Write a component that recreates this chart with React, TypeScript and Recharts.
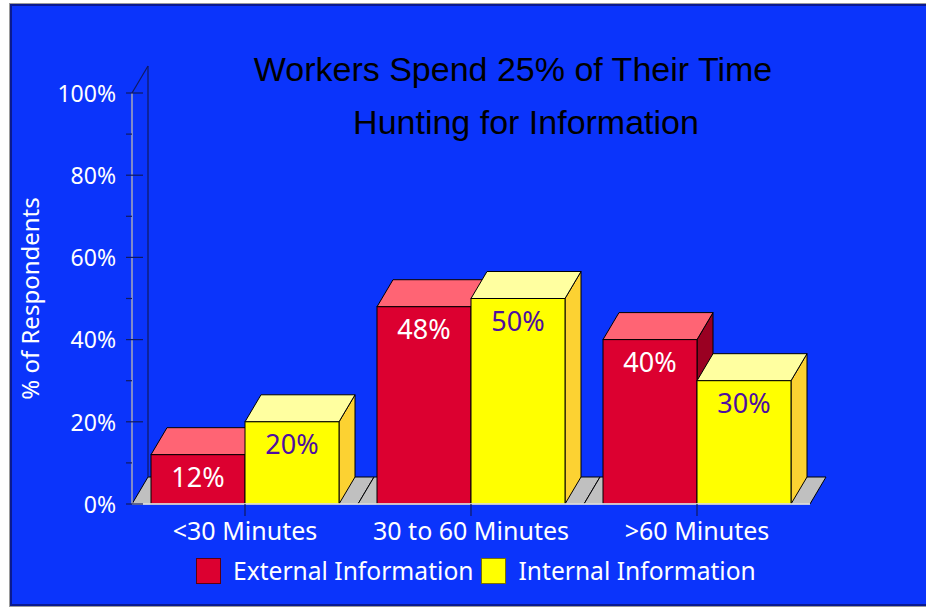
import { BarChart, Bar, XAxis, YAxis, Legend, LabelList, ReferenceArea } from "recharts";

const categories = ["<30 Minutes", "30 to 60 Minutes", ">60 Minutes"];
const externalInfo = [12, 48, 40];
const internalInfo = [20, 50, 30];
const yTicks = [0, 10, 20, 30, 40, 50, 60, 70, 80, 90, 100];

const data = categories.map((name, i) => ({
    name,
    external: externalInfo[i],
    internal: internalInfo[i],
}));

// depth of the fake 3d
const DX = 16;
const DY = 27;
const FONT = "'Noto Sans', sans-serif";
const AXIS_DARK = "#101a60";

const makeBox = (front: string, top: string, side: string) => (props: any) => {
    const { x, y, width: w, height: h } = props;
    if (h == null || w == null) return null;
    return (
        <g>
            <polygon
                points={`${x + w},${y} ${x + w + DX},${y - DY} ${x + w + DX},${y + h - DY} ${x + w},${y + h}`}
                fill={side}
                stroke="#000"
                strokeWidth={1}
            />
            <polygon
                points={`${x},${y} ${x + DX},${y - DY} ${x + w + DX},${y - DY} ${x + w},${y}`}
                fill={top}
                stroke="#000"
                strokeWidth={1}
            />
            <rect x={x} y={y} width={w} height={h} fill={front} stroke="#000" strokeWidth={1} />
        </g>
    );
};

const RedBox = makeBox("#dc0030", "#ff6474", "#9a0022");
const YellowBox = makeBox("#ffff00", "#ffffa0", "#fcd232");

const FloorTile = (props: any) => {
    const { x, y, width, height } = props;
    const b = y + height;
    return (
        <polygon
            points={`${x},${b} ${x + width},${b} ${x + width + DX},${b - DY} ${x + DX},${b - DY}`}
            fill="#c0c0c0"
            stroke="#000"
            strokeWidth={1}
        />
    );
};

const BackAxis = (props: any) => {
    const { x, y, height } = props;
    return (
        <g>
            <line x1={x} y1={y} x2={x + DX} y2={y - DY} stroke={AXIS_DARK} strokeWidth={1.2} />
            <line x1={x + DX} y1={y - DY} x2={x + DX} y2={y + height - DY} stroke={AXIS_DARK} strokeWidth={1.2} />
        </g>
    );
};

const YTick = (props: any) => {
    const { x, y, payload } = props;
    const v = payload.value;
    const major = v % 20 === 0;
    return (
        <g>
            <line x1={x - 6} x2={major ? x + 11 : x} y1={y} y2={y} stroke={AXIS_DARK} strokeWidth={1.2} />
            {major && (
                <text x={x - 16} y={y} dy="0.38em" textAnchor="end" fill="#fff" fontSize={23} fontFamily={FONT}>
                    {v}%
                </text>
            )}
        </g>
    );
};

const YTitle = (props: any) => {
    const vb = props.viewBox || { x: 72, y: 93, width: 60, height: 411 };
    const cx = vb.x - 42;
    const cy = vb.y + vb.height / 2;
    return (
        <text
            transform={`translate(${cx},${cy}) rotate(-90)`}
            textAnchor="middle"
            dy="0.36em"
            fill="#fff"
            fontSize={24}
            fontFamily={FONT}
        >
            % of Respondents
        </text>
    );
};

const makeValueLabel = (color: string) => (props: any) => {
    const vb = props.viewBox || props;
    const { x, y, width } = vb;
    return (
        <text x={x + width / 2} y={y + 32} textAnchor="middle" fill={color} fontSize={27} fontFamily={FONT}>
            {props.value}%
        </text>
    );
};

const legendBorders = ["#5a0010", "#7a7000"];

const LegendContent = (props: any) => {
    const items = props.payload || [];
    return (
        <div style={{ display: "flex", alignItems: "center", height: 30 }}>
            {items.map((p: any, i: number) => (
                <div key={p.value} style={{ display: "flex", alignItems: "center", marginRight: 8 }}>
                    <span
                        style={{
                            display: "inline-block",
                            width: 25,
                            height: 26,
                            boxSizing: "border-box",
                            background: p.color,
                            border: `1px solid ${legendBorders[i]}`,
                        }}
                    />
                    <span style={{ marginLeft: 12, color: "#fff", fontSize: 24.6, fontFamily: FONT, lineHeight: "30px" }}>
                        {p.value}
                    </span>
                </div>
            ))}
        </div>
    );
};

export default function App() {
    return (
        <div style={{ position: "absolute", left: 0, top: 0, width: 926, height: 609, background: "#fff", overflow: "hidden" }}>
            <div
                style={{
                    position: "absolute",
                    left: 9,
                    top: 3,
                    width: 940,
                    height: 604,
                    border: "1px solid #9a9a9a",
                    boxSizing: "border-box",
                }}
            >
                <div
                    style={{
                        width: "100%",
                        height: "100%",
                        border: "2px solid #0a1a90",
                        boxSizing: "border-box",
                        background: "#0b34fb",
                    }}
                />
            </div>

            <svg width={926} height={150} style={{ position: "absolute", left: 0, top: 0 }}>
                <text x={513} y={81} textAnchor="middle" fontSize={34} fontFamily="'Liberation Sans', Arial, sans-serif" fill="#000">
                    Workers Spend 25% of Their Time
                </text>
                <text x={526} y={134} textAnchor="middle" fontSize={34} fontFamily="'Liberation Sans', Arial, sans-serif" fill="#000">
                    Hunting for Information
                </text>
            </svg>

            <div style={{ position: "absolute", left: 0, top: 0 }}>
                <BarChart
                    width={926}
                    height={609}
                    data={data}
                    margin={{ top: 93, right: 116, bottom: 23, left: 72 }}
                    barCategoryGap={19}
                    barGap={0}
                >
                    {categories.map((c) => (
                        <ReferenceArea key={c} x1={c} x2={c} y1={0} y2={100} shape={FloorTile} ifOverflow="visible" />
                    ))}
                    <ReferenceArea y1={0} y2={100} shape={BackAxis} ifOverflow="visible" />
                    <Bar dataKey="external" name="External Information" fill="#dc0030" shape={RedBox} isAnimationActive={false}>
                        <LabelList dataKey="external" content={makeValueLabel("#ffffff")} />
                    </Bar>
                    <Bar dataKey="internal" name="Internal Information" fill="#ffff00" shape={YellowBox} isAnimationActive={false}>
                        <LabelList dataKey="internal" content={makeValueLabel("#4e0ea0")} />
                    </Bar>
                    <XAxis
                        dataKey="name"
                        interval={0}
                        height={52}
                        tickSize={12}
                        tickMargin={6}
                        tickLine={{ stroke: AXIS_DARK, strokeWidth: 1.2 }}
                        axisLine={{ stroke: "#ffffff", strokeWidth: 1.5 }}
                        tick={{ fill: "#ffffff", fontSize: 25, fontFamily: FONT }}
                    />
                    <YAxis
                        domain={[0, 100]}
                        ticks={yTicks}
                        interval={0}
                        width={60}
                        tickSize={0}
                        tickMargin={0}
                        tickLine={false}
                        axisLine={{ stroke: "#a8a8b8", strokeWidth: 1.5 }}
                        tick={YTick}
                        label={{ content: YTitle }}
                    />
                    <Legend
                        verticalAlign="bottom"
                        align="left"
                        content={LegendContent}
                        wrapperStyle={{ left: 196 }}
                    />
                </BarChart>
            </div>
        </div>
    );
}
